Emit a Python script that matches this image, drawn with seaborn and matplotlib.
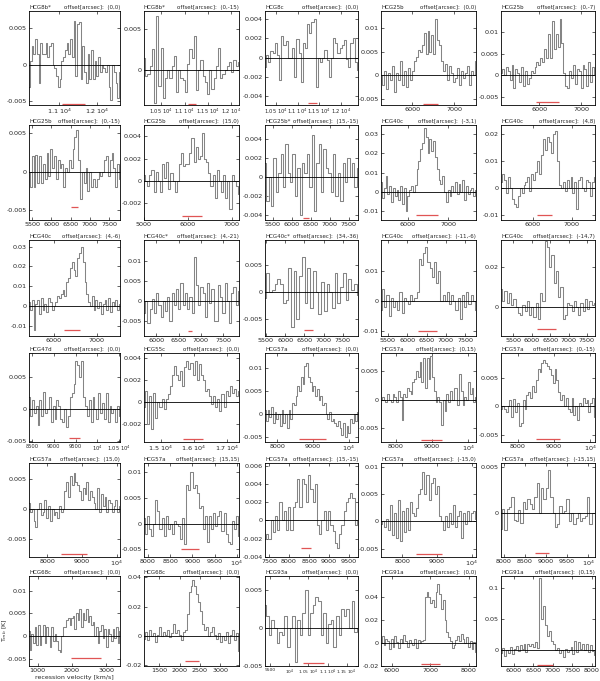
import numpy as np
import pandas as pd
import matplotlib
matplotlib.use("Agg")
import matplotlib.pyplot as plt
import seaborn as sns

sns.set_style("ticks")
plt.rcParams['font.family'] = ['DejaVu Sans']

# --- panel meta data ---
panel_names = ["HCG8b*", "HCG8b*", "HCG8c", "HCG25b", "HCG25b",
               "HCG25b", "HCG25b", "HCG25b*", "HCG40c", "HCG40c",
               "HCG40c", "HCG40c*", "HCG40c*", "HCG40c", "HCG40c",
               "HCG47d", "HCG55c", "HCG57a", "HCG57a", "HCG57a",
               "HCG57a", "HCG57a", "HCG57a", "HCG57a", "HCG57a",
               "HCG68c", "HCG68c", "HCG93a", "HCG91a", "HCG91a"]
panel_offsets = ["(0,0)", "(0,-15)", "(0,0)", "(0,0)", "(0,-7)",
                 "(0,-15)", "(15,0)", "(15,-15)", "(-3,1)", "(4,8)",
                 "(4,-6)", "(4,-21)", "(34,-36)", "(-11,-6)", "(-14,7)",
                 "(0,0)", "(0,0)", "(0,0)", "(0,15)", "(0,-15)",
                 "(15,0)", "(15,15)", "(15,-15)", "(-15,0)", "(-15,15)",
                 "(0,0)", "(0,0)", "(0,0)", "(0,0)", "(0,15)"]

x_limits = [(10200, 12600), (10130, 12170), (10250, 12390), (5260, 7520), (5090, 7325),
            (5420, 7780), (5000, 7160), (5290, 7740), (5340, 7680), (5175, 7600),
            (5420, 7540), (5730, 7850), (5475, 7895), (5320, 7780), (5165, 7720),
            (8430, 10520), (14500, 17360), (7657, 10257), (7590, 10210), (7530, 10140),
            (7470, 10100), (7910, 10050), (7400, 9720), (7380, 10120), (7930, 10160),
            (750, 3400), (1125, 3465), (9360, 11800), (5720, 8190), (5670, 8090)]
y_limits = [(-0.0055, 0.0073), (-0.0043, 0.0072), (-0.0049, 0.0048), (-0.0063, 0.0137), (-0.0068, 0.0148),
            (-0.0063, 0.0061), (-0.0035, 0.005), (-0.0045, 0.0055), (-0.0144, 0.0344), (-0.0119, 0.0233),
            (-0.015, 0.0333), (-0.0088, 0.0152), (-0.0081, 0.0097), (-0.0118, 0.0202), (-0.0143, 0.0336),
            (-0.0051, 0.0088), (-0.0037, 0.0045), (-0.006, 0.0132), (-0.0074, 0.0081), (-0.0063, 0.0093),
            (-0.008, 0.0077), (-0.0065, 0.0118), (-0.004, 0.0063), (-0.0065, 0.0107), (-0.0047, 0.0054),
            (-0.0066, 0.0132), (-0.0205, 0.041), (-0.005, 0.0068), (-0.0185, 0.0588), (-0.026, 0.119)]

x_ticks = [[11000, 12000], [10500, 11000, 11500, 12000], [10500, 11000, 11500, 12000], [6000, 7000], [6000, 7000],
           [5500, 6000, 6500, 7000, 7500], [5000, 6000, 7000], [5500, 6000, 6500, 7000, 7500], [6000, 7000], [6000, 7000],
           [6000, 7000], [6000, 6500, 7000, 7500], [5500, 6000, 6500, 7000, 7500], [5500, 6000, 6500, 7000, 7500],
           [5500, 6000, 6500, 7000, 7500],
           [8500, 9000, 9500, 10000, 10500], [15000, 16000, 17000], [8000, 9000, 10000], [8000, 9000, 10000],
           [8000, 9000, 10000],
           [8000, 9000, 10000], [8000, 8500, 9000, 9500, 10000], [7500, 8000, 8500, 9000, 9500], [8000, 9000, 10000],
           [8000, 8500, 9000, 9500, 10000],
           [1000, 2000, 3000], [1500, 2000, 2500, 3000], [9500, 10000, 10500, 11000, 11500], [6000, 7000, 8000],
           [6000, 6500, 7000, 7500, 8000]]
y_ticks = [[-0.005, 0, 0.005], [0, 0.005], [-0.004, -0.002, 0, 0.002, 0.004], [-0.005, 0, 0.005, 0.01],
           [-0.005, 0, 0.005, 0.01],
           [-0.005, 0, 0.005], [-0.002, 0, 0.002, 0.004], [-0.004, -0.002, 0, 0.002, 0.004],
           [-0.01, 0, 0.01, 0.02, 0.03], [-0.01, 0, 0.01, 0.02],
           [-0.01, 0, 0.01, 0.02, 0.03], [-0.005, 0, 0.005, 0.01], [-0.005, 0, 0.005], [-0.01, 0, 0.01], [0, 0.02],
           [-0.005, 0, 0.005], [-0.002, 0, 0.002, 0.004], [-0.005, 0, 0.005, 0.01], [-0.005, 0, 0.005],
           [-0.005, 0, 0.005],
           [-0.005, 0, 0.005], [-0.005, 0, 0.005, 0.01], [-0.004, -0.002, 0, 0.002, 0.004, 0.006],
           [-0.005, 0, 0.005, 0.01], [0, 0.005],
           [-0.005, 0, 0.005, 0.01], [-0.02, 0, 0.02, 0.04], [-0.005, 0, 0.005], [-0.02, 0, 0.02, 0.04],
           [0, 0.05, 0.1]]

# red bar: velocity range and level
red_bars = [(11080, 11690, -0.0053), (11075, 11250, -0.0042), (11240, 11450, -0.0047), (6260, 6616, -0.0061),
            (5928, 6460, -0.0062),
            (6500, 6680, -0.0046), (5860, 6320, -0.0031), (6290, 6450, -0.0043), (6200, 6750, -0.012),
            (6100, 6500, -0.010),
            (6225, 6616, -0.012), (6710, 6800, -0.0075), (6490, 6720, -0.007), (6270, 6760, -0.010),
            (6130, 6660, -0.011),
            (9340, 9610, -0.0045), (15660, 16290, -0.0034), (8620, 9350, -0.0053), (8680, 9280, -0.007),
            (8500, 9180, -0.0057),
            (8390, 9160, -0.0075), (8740, 9140, -0.005), (8300, 8560, -0.003), (8380, 9140, -0.006),
            (8740, 9060, -0.0043),
            (1960, 2840, -0.0049), (2140, 2490, -0.017), (10350, 10900, -0.0046), (6760, 7260, -0.018),
            (6600, 7000, -0.024)]

# --- spectra (T_mb in K), channels evenly spread over the plotted velocity range ---
T01 = [-0.003, 0.0005, 0.0025, 0.0015, 0.0035, 0.0015, -0.0025, 0.003, 0.0015, 0.0015, 0.003, 0.001, 0.0025,
       0.003, 0.0, -0.0005, -0.0015, -0.003, -0.002, 0.0005, 0.001, 0.002, 0.003, 0.0015, 0.0035, 0.001, 0.006,
       -0.0015, 0.0055, 0.0058, -0.002, 0.0025, -0.001, -0.0025, 0.0015, -0.002, 0.002, -0.002, 0.0005, -0.0015,
       0.001, -0.001, 0.0, -0.0005, -0.001, 0.0, -0.003, -0.0048, 0.0, -0.001, -0.0025, -0.0045, -0.001]
T02 = [0.0015, -0.0008, -0.0005, 0.0005, 0.0026, -0.0041, 0.0066, -0.002, 0.0027, -0.0035, -0.001, 0.0, -0.001,
       0.0005, 0.0017, -0.0027, 0.0, -0.001, -0.0013, -0.0027, 0.0007, 0.0025, 0.0015, 0.0042, -0.0025, 0.0,
       0.0012, -0.0007, -0.0015, -0.003, 0.0, -0.0023, -0.001, 0.0005, 0.0027, -0.001, -0.0005, 0.0, 0.0005,
       0.001, -0.0003, 0.0012, 0.0005, 0.001]
T03 = [-0.001, 0.0003, -0.0005, 0.0007, 0.0005, 0.0015, 0.0003, -0.0023, 0.0022, 0.0013, 0.0017, 0.0, 0.0,
       0.001, -0.002, 0.0019, 0.0005, -0.0025, 0.0015, 0.001, 0.0035, 0.0025, 0.0037, 0.004, -0.003, 0.0,
       -0.0005, 0.0, 0.0008, -0.0003, -0.002, 0.0, 0.002, 0.0015, 0.0005, 0.001, 0.0013, 0.0018, -0.0002,
       -0.001, 0.0015, 0.002, -0.0005, -0.0013]
T04 = [0.0, -0.002, 0.001, -0.003, 0.0005, -0.001, 0.002, -0.0035, 0.0005, -0.001, 0.003, -0.002, 0.001,
       -0.0025, 0.0015, -0.001, 0.001, 0.003, 0.004, 0.0055, 0.005, 0.0065, 0.009, 0.0045, 0.0095, 0.005,
       0.0085, 0.0045, 0.012, 0.0075, 0.0065, 0.003, 0.001, 0.0025, -0.001, 0.002, 0.0005, -0.0015, -0.0005,
       0.0015, -0.002, 0.001, -0.0005, 0.0005, 0.002, -0.002, 0.001, 0.0, 0.003]
T05 = [0.0005, 0.0015, 0.0, 0.002, 0.001, -0.001, 0.0025, -0.003, 0.0015, 0.0005, -0.0015, 0.002, -0.0025,
       0.001, -0.002, -0.0005, 0.001, 0.0005, 0.002, 0.003, 0.0025, 0.004, 0.003, 0.006, 0.004, 0.0095, 0.004,
       0.0125, 0.006, 0.0095, 0.0065, 0.013, 0.0075, 0.0005, -0.0025, -0.003, 0.001, -0.0005, 0.0025, -0.002,
       0.0015, 0.001, -0.003, 0.0025, 0.0015, -0.0025, 0.003, -0.0015, 0.002, 0.0]
T06 = [0.0, -0.002, 0.002, -0.002, 0.0022, -0.0015, 0.002, -0.0015, 0.001, -0.001, 0.0025, -0.0005, 0.003,
       0.0005, 0.002, -0.001, 0.0015, 0.0005, 0.001, -0.002, 0.0005, 0.0, 0.0015, 0.0005, 0.003, 0.0045, 0.0055,
       0.0015, -0.0035, 0.0, -0.0015, 0.0005, -0.0025, 0.0, -0.002, -0.001, -0.002, -0.001, 0.0, -0.0005, 0.0,
       0.0015, 0.002, -0.0005, 0.0015, 0.0025, 0.0005, -0.002, 0.001, -0.001]
T07 = [0.0005, 0.0, -0.0005, 0.0005, 0.001, -0.001, 0.0008, 0.0, -0.001, 0.0015, 0.0003, 0.0017, -0.0007,
       0.0007, 0.0, -0.001, 0.0, 0.0015, 0.0025, 0.0013, 0.0015, 0.0015, 0.0025, 0.0038, 0.0017, 0.003, 0.002,
       0.0022, 0.0043, 0.002, 0.0017, 0.0007, -0.0005, 0.0005, -0.0015, 0.001, 0.0, -0.001, 0.0005, -0.0015,
       0.0, -0.0025, 0.0005, 0.0, -0.0005, -0.0012]
T08 = [0.0015, -0.0025, 0.0, -0.003, 0.002, -0.0015, 0.0005, 0.0025, -0.001, 0.0035, 0.0005, -0.0005, 0.0025,
       -0.002, 0.001, -0.004, 0.0015, 0.0005, 0.0025, -0.001, 0.0045, -0.0035, 0.0015, 0.0035, -0.0015, 0.003,
       0.001, 0.0005, -0.0015, 0.0025, -0.002, 0.0005, -0.0025, 0.0015, -0.0005, 0.002, 0.0, 0.0015, -0.001,
       0.001]
T09 = [0.005, -0.003, 0.002, 0.008, -0.001, 0.003, -0.005, 0.002, -0.002, 0.001, -0.004, 0.003, -0.006, 0.002,
       -0.01, -0.002, 0.001, 0.003, 0.0, 0.0035, 0.012, 0.016, 0.022, 0.025, 0.033, 0.028, 0.02, 0.027, 0.021,
       0.026, 0.018, 0.012, 0.006, 0.004, 0.008, 0.0, -0.005, 0.001, -0.002, 0.003, 0.0, 0.005, -0.001, 0.004,
       0.0, 0.006, -0.004, 0.003, -0.001, 0.001, 0.002, -0.002, 0.001]
T10 = [0.002, 0.005, 0.003, -0.002, 0.004, 0.0, -0.004, -0.006, -0.007, -0.003, 0.0, -0.002, 0.001, 0.002,
       0.004, -0.001, 0.005, 0.003, 0.006, 0.01, 0.005, 0.012, 0.018, 0.014, 0.019, 0.017, 0.013, 0.02, 0.021,
       0.01, 0.001, 0.0, 0.002, -0.001, 0.003, 0.0, 0.004, -0.002, 0.002, -0.008, 0.003, 0.004, 0.0, -0.001,
       0.003, 0.002, -0.003, 0.002, 0.004]
T11 = [0.002, -0.002, 0.003, -0.012, 0.001, 0.003, -0.004, 0.004, -0.002, 0.001, -0.003, 0.004, 0.002, -0.002,
       0.0, 0.002, 0.005, 0.004, 0.006, 0.008, 0.005, 0.012, 0.014, 0.019, 0.022, 0.018, 0.015, 0.024, 0.027,
       0.03, 0.022, 0.012, 0.006, 0.002, 0.0, 0.005, -0.002, 0.003, -0.001, 0.002, -0.004, 0.001, 0.003, -0.002,
       0.004, -0.003, 0.002, 0.0, 0.003, -0.002, 0.001]
T12 = [-0.003, 0.0, -0.0055, -0.002, 0.0005, -0.003, 0.002, -0.001, -0.004, 0.0, -0.0025, 0.001, -0.005, 0.002,
       -0.001, 0.003, -0.002, 0.0045, -0.001, 0.002, -0.002, 0.001, -0.003, 0.011, 0.004, -0.001, 0.0035, 0.002,
       -0.004, 0.0045, -0.0005, 0.003, -0.005, -0.005, 0.004, 0.001, -0.003, 0.0045, 0.0, -0.0055, 0.002,
       0.0035, -0.001, 0.0025]
T13 = [-0.001, 0.0035, 0.0, 0.0005, 0.0015, 0.0025, 0.0015, -0.002, -0.0015, 0.0045, -0.0064, 0.004, -0.005,
       0.003, 0.0065, -0.002, 0.0045, -0.003, 0.004, 0.0, -0.004, 0.002, -0.0035, 0.0015, 0.0, -0.003, 0.0035,
       -0.002, 0.001, 0.0035, -0.0015, 0.0025, 0.0005, 0.0015, -0.0005]
T14 = [-0.003, 0.004, -0.002, 0.002, -0.005, 0.001, -0.002, 0.0, -0.003, 0.003, -0.004, 0.001, 0.0, -0.001,
       0.002, 0.0, 0.001, 0.003, 0.014, 0.012, 0.016, 0.018, 0.013, 0.011, 0.008, 0.013, 0.006, 0.01, 0.0,
       0.002, 0.0, 0.003, -0.001, 0.002, 0.0, -0.003, 0.001, -0.006, 0.002, -0.002, 0.003, -0.001, 0.002, 0.0,
       -0.003]
T15 = [0.009, 0.003, 0.008, 0.002, 0.007, 0.001, 0.004, 0.0, -0.003, -0.004, 0.001, -0.002, 0.003, -0.004,
       0.0, -0.005, 0.002, -0.006, 0.007, 0.003, 0.033, 0.03, 0.02, 0.026, 0.012, 0.018, 0.005, 0.01, -0.006,
       -0.004, 0.002, 0.001, -0.002, 0.003, 0.0, -0.004, 0.002, -0.002, 0.004, -0.001, 0.003, 0.001, 0.002]
T16 = [0.002, -0.001, 0.0015, -0.0005, 0.0005, -0.0025, 0.0015, -0.001, 0.0027, -0.0005, 0.0, 0.002, -0.002,
       0.0005, -0.0015, 0.0015, 0.0005, -0.0015, -0.002, 0.0, -0.0028, -0.001, 0.002, 0.0025, 0.004, 0.0075,
       0.007, 0.005, 0.0075, 0.002, 0.0005, -0.001, 0.0015, -0.002, 0.002, 0.0, -0.0015, 0.0025, -0.0005, 0.001,
       -0.0015, 0.0025, -0.002, 0.0005, -0.0005, 0.0, -0.002, 0.0005, -0.001]
T17 = [-0.0005, 0.001, -0.002, 0.0005, -0.0025, 0.0008, -0.0015, 0.0, -0.0005, 0.0003, -0.0007, 0.0003, 0.0007,
       0.0015, 0.0025, 0.0033, 0.0025, 0.002, 0.0028, 0.0015, 0.0032, 0.0038, 0.003, 0.0036, 0.0025, 0.0038,
       0.002, 0.0035, 0.0025, 0.002, 0.001, 0.0012, 0.0005, -0.0002, 0.0005, -0.0005, 0.0003, -0.0008, 0.0007,
       -0.0005, 0.001, 0.0005, 0.0015, 0.0008, 0.0012, 0.0005, 0.001]
T18 = [0.0008, -0.0015, 0.001, -0.0005, 0.0015, -0.002, 0.0005, -0.001, 0.0, -0.0025, 0.001, -0.002, 0.0,
       -0.003, 0.001, -0.001, 0.0025, 0.002, 0.004, 0.006, 0.005, 0.008, 0.0065, 0.0105, 0.011, 0.008, 0.007,
       0.005, 0.006, 0.004, 0.0055, 0.003, 0.004, 0.002, 0.0025, 0.0, -0.001, 0.0005, -0.0015, -0.001, -0.002,
       -0.0025, -0.0015, -0.003, -0.0045, -0.002, -0.005, -0.0025, -0.004, -0.001, -0.002, 0.0, -0.0015, 0.0005]
T19 = [0.0, 0.0005, 0.0, -0.0005, 0.001, 0.0, -0.0005, 0.001, 0.0005, -0.0005, 0.0015, 0.0005, -0.0035, 0.001,
       0.0005, 0.002, 0.0015, 0.001, 0.003, 0.0035, 0.005, 0.004, 0.0065, 0.003, 0.0072, 0.002, 0.0072, 0.0035,
       0.0075, 0.004, 0.0015, -0.0005, 0.0005, -0.0005, -0.0045, 0.0, -0.002, 0.001, -0.0005, 0.0015, 0.0,
       0.002, 0.002, -0.001, 0.0045, 0.0015, -0.001, 0.0005, 0.0, 0.003, 0.001, 0.002, -0.0005, 0.0005]
T20 = [-0.0005, 0.0, -0.0005, -0.001, 0.0, 0.001, -0.002, 0.0013, -0.001, 0.0005, -0.0035, -0.003, 0.001,
       -0.0005, 0.002, 0.0025, 0.0015, 0.0035, 0.0025, 0.0045, 0.0065, 0.006, 0.0075, 0.008, 0.0075, 0.007,
       0.0065, 0.0055, 0.004, 0.0065, 0.0045, 0.0025, 0.001, 0.002, 0.0, 0.0015, -0.0005, -0.001, 0.0015,
       -0.0015, 0.0, -0.0025, 0.0005, 0.0, 0.0015, 0.0005, 0.001, -0.001, 0.0005, 0.0015, -0.002]
T21 = [0.001, -0.0005, 0.0, -0.002, -0.003, 0.0, 0.001, -0.001, -0.0005, 0.0015, -0.0015, 0.0005, -0.002, 0.0,
       -0.001, -0.0005, -0.0015, 0.0005, -0.0005, 0.0, 0.003, 0.0045, 0.002, 0.0055, 0.004, 0.006, 0.0045,
       0.004, 0.003, 0.0015, 0.0035, 0.0025, 0.0045, 0.0015, 0.003, 0.002, 0.001, 0.0, 0.0035, -0.0005, 0.0025,
       0.0005, 0.002, -0.0005, 0.0015, 0.001, -0.0005, 0.0005, 0.0015, -0.0005, 0.0005]
T22 = [0.001, -0.002, 0.0015, -0.001, -0.0025, 0.0, 0.0045, 0.0025, -0.001, 0.001, -0.0025, 0.0015, -0.001, 0.0,
       -0.002, 0.0005, 0.0, -0.0005, -0.003, 0.001, -0.004, 0.0075, 0.0065, 0.01, 0.007, 0.0075, 0.006, 0.003,
       0.0035, -0.001, 0.0015, -0.0035, 0.0015, -0.001, 0.002, -0.0005, 0.0015, 0.0025, -0.0015, 0.002, -0.002,
       -0.0035, -0.004, 0.0005, -0.001, 0.0015, -0.0025]
T23 = [-0.002, -0.0015, -0.002, 0.0, -0.0013, 0.0005, -0.001, 0.002, 0.0, 0.001, -0.001, 0.0015, -0.001,
       0.0015, 0.002, 0.0045, 0.0015, 0.0045, 0.004, 0.002, 0.005, 0.0035, 0.002, 0.004, -0.0005, -0.0015, 0.0,
       0.001, -0.001, 0.001, -0.0005, -0.0012, -0.0025, -0.003, -0.0015, -0.0005, 0.001, 0.002, 0.0025, 0.003,
       0.0025, -0.0005, 0.0]
T24 = [-0.0005, 0.0, -0.001, 0.0005, -0.0015, 0.003, -0.0025, 0.0015, -0.003, 0.004, -0.0035, 0.002, -0.002,
       0.0025, -0.0015, 0.0035, 0.0015, 0.001, 0.0025, 0.005, 0.006, 0.009, 0.005, 0.0085, 0.004, 0.007, 0.008,
       0.005, 0.0065, 0.001, 0.0, -0.0015, 0.001, -0.001, 0.0015, -0.0005, 0.003, -0.001, 0.001, 0.002, -0.003,
       0.0015, -0.0005, 0.002, 0.0, 0.0015, 0.002, 0.0005]
T25 = [-0.0017, 0.0005, -0.0018, 0.0005, 0.0007, 0.0018, -0.0007, -0.0008, 0.0003, -0.001, 0.0012, 0.0005,
       0.0015, 0.001, 0.0005, 0.0017, 0.0032, 0.0, 0.0027, 0.0015, 0.0027, 0.0047, 0.0017, 0.0, -0.0015, -0.0012,
       0.0008, 0.0, 0.0002, 0.0015, -0.0008, 0.0, -0.0012, -0.0005, 0.0, -0.0008, -0.0005, -0.0003, 0.0017,
       -0.0012, 0.0, 0.0]
T26 = [0.001, -0.003, 0.0005, -0.0015, 0.002, -0.002, 0.0025, -0.002, 0.0, 0.0025, -0.0015, 0.002, 0.0,
       -0.0025, 0.002, -0.001, 0.0005, -0.001, -0.003, -0.0035, 0.0, 0.002, 0.002, 0.0035, 0.004, 0.0025, 0.004,
       0.0045, 0.0015, 0.005, 0.0035, 0.006, 0.002, 0.005, 0.0035, 0.006, 0.003, 0.0045, 0.0025, 0.003, 0.0,
       0.002, -0.0015, 0.001, 0.0025, -0.0005, 0.0015, -0.0025, 0.0015, 0.0005, -0.001, 0.0015, -0.0005, 0.002,
       -0.0015, 0.001]
T27 = [-0.002, 0.003, -0.003, 0.004, 0.0, 0.002, -0.004, 0.001, 0.006, 0.0, 0.003, 0.001, 0.004, -0.001, 0.002,
       0.008, 0.002, 0.004, 0.001, -0.003, 0.003, 0.004, 0.015, 0.03, 0.034, 0.038, 0.034, 0.029, 0.023, 0.017,
       0.008, 0.004, 0.006, 0.0, 0.003, 0.006, 0.001, -0.002, 0.002, -0.004, 0.0, -0.003, 0.003, -0.005, 0.001,
       0.004, -0.003, 0.002, -0.01]
T28 = [0.003, 0.0015, -0.001, 0.001, 0.0, -0.002, -0.0005, -0.001, 0.0015, -0.0025, 0.0, 0.0015, -0.0045, 0.001,
       -0.001, 0.002, 0.005, -0.001, 0.002, 0.003, 0.004, 0.0035, -0.001, 0.002, -0.002, 0.0005, 0.001, -0.0025,
       0.0015, -0.001, 0.0025, 0.0015, 0.0025, 0.0, 0.0035, -0.0005, 0.0]
T29 = [0.0, 0.006, -0.002, 0.004, 0.002, -0.005, 0.004, -0.003, 0.006, 0.001, -0.004, 0.004, 0.0, 0.007, 0.002,
       -0.003, 0.003, 0.0, -0.002, 0.004, -0.004, 0.003, 0.0, 0.002, 0.003, 0.04, 0.045, 0.04, 0.035, 0.038,
       0.032, 0.045, 0.052, 0.043, 0.03, 0.038, 0.02, 0.01, 0.005, 0.002, -0.004, -0.002, 0.003, 0.006, 0.002,
       0.008, 0.004, 0.0, 0.005, -0.003, 0.002, -0.005, 0.001, -0.008]
T30 = [-0.005, 0.003, -0.01, 0.0, -0.005, 0.004, -0.007, 0.002, 0.006, -0.002, 0.008, 0.002, 0.01, -0.003,
       0.009, 0.006, 0.01, 0.004, 0.012, 0.003, 0.115, 0.05, 0.07, 0.04, 0.022, 0.03, 0.015, 0.01, 0.0, 0.003,
       -0.005, 0.0, -0.012, 0.002, -0.003, 0.0, 0.004, -0.006, 0.015, -0.004, 0.012, 0.002, 0.01, 0.0, 0.01,
       -0.003, 0.008, -0.002, -0.008]

spectra = [T01, T02, T03, T04, T05, T06, T07, T08, T09, T10,
           T11, T12, T13, T14, T15, T16, T17, T18, T19, T20,
           T21, T22, T23, T24, T25, T26, T27, T28, T29, T30]

# --- layout of the 6x5 grid in pixels ---
W, H = 600, 681
col_left = [29, 144, 265, 381, 501]
col_width = [91, 95, 93, 95, 94]
row_top = [11, 125, 240, 353, 463, 576]
row_height = [94, 95, 96, 89, 94, 90]

# panels with long "x 10^4" tick labels get a smaller x label font
crowded = {1: 3.7, 2: 3.7, 15: 3.7, 27: 3.2}


def xlabel_fmt(v):
    if v >= 10000:
        if v == 10000:
            return "10$^4$"
        return f"{v / 1e4:g} 10$^4$"
    return str(int(v))


fig = plt.figure(figsize=(W / 100, H / 100), dpi=100)

for i in range(30):
    r, c = divmod(i, 5)
    l, t, w, h = col_left[c], row_top[r], col_width[c], row_height[r]
    ax = fig.add_axes([l / W, 1 - (t + h) / H, w / W, h / H])

    x0, x1 = x_limits[i]
    vel = np.linspace(x0, x1, len(spectra[i]))
    df = pd.DataFrame({"v": vel, "T": spectra[i]})
    sns.lineplot(data=df, x="v", y="T", ax=ax, color="#858585", lw=0.75,
                 drawstyle="steps-mid", estimator=None, sort=False)

    ax.axhline(0, color="black", lw=0.6)
    rv1, rv2, ry = red_bars[i]
    ax.hlines(ry, rv1, rv2, color="#e05555", lw=0.9, zorder=5)

    ax.set_xlim(x0, x1)
    ax.set_ylim(*y_limits[i])
    ax.set_xticks(x_ticks[i])
    ax.set_xticklabels([xlabel_fmt(v) for v in x_ticks[i]])
    ax.set_yticks(y_ticks[i])
    ax.set_yticklabels([f"{v:g}" for v in y_ticks[i]])
    ax.set_xlabel("")
    ax.set_ylabel("")
    ax.tick_params(direction="in", length=2, width=0.5, labelsize=4.6, pad=1.5,
                   top=True, right=True)
    if i in crowded:
        ax.tick_params(axis="x", labelsize=crowded[i])
    for s in ax.spines.values():
        s.set_linewidth(0.6)
        s.set_color("black")

    ax.text(0.0, 1.015, panel_names[i], transform=ax.transAxes, fontsize=4,
            ha="left", va="bottom")
    ax.text(1.0, 1.015, f"offset[arcsec]:  {panel_offsets[i]}", transform=ax.transAxes,
            fontsize=4, ha="right", va="bottom")

fig.text(5 / W, 1 - 630 / H, "T$_{mb}$ [K]", rotation=90, fontsize=4.5, ha="center", va="center")
fig.text(74 / W, 1 - 677 / H, "recession velocity [km/s]", fontsize=4.5, ha="center", va="center")

fig.savefig("out.png", dpi=100)
